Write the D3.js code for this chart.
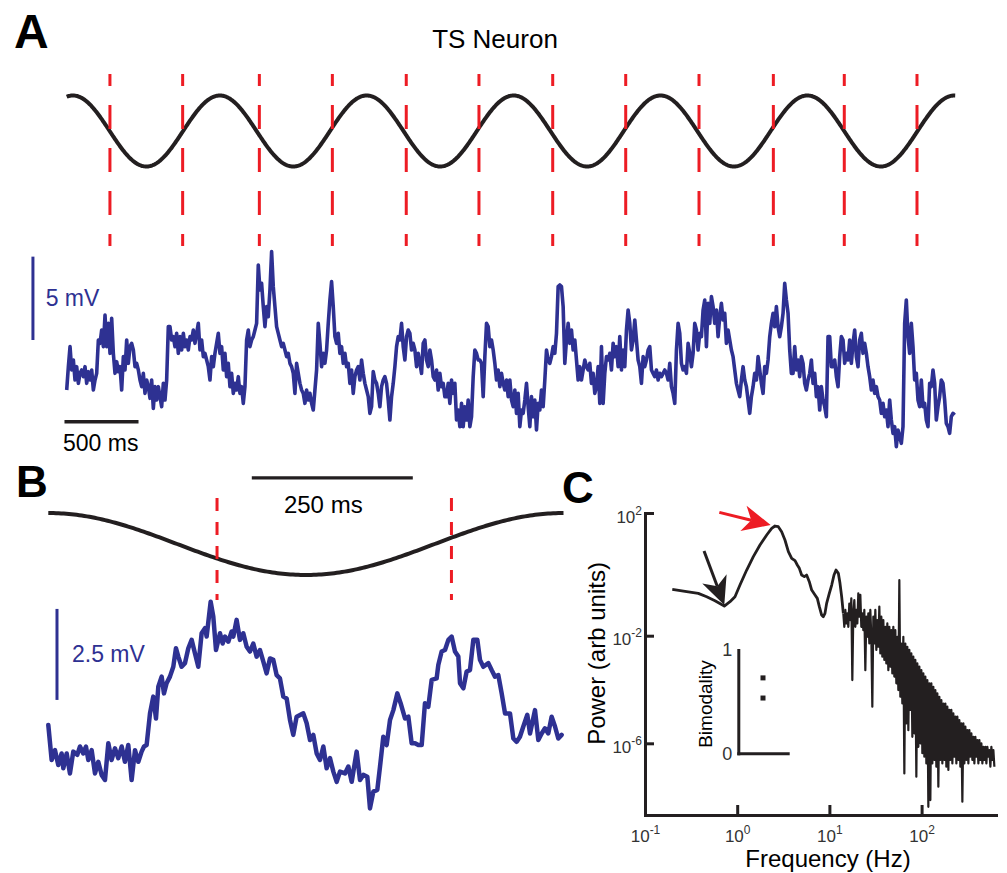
<!DOCTYPE html>
<html>
<head>
<meta charset="utf-8">
<script src="https://d3js.org/d3.v7.min.js"></script>
<style>
body { margin: 0; background: #fff; }
svg { display: block; font-family: "Liberation Sans", Arial, sans-serif; }
</style>
</head>
<body>
<svg width="1007" height="873"></svg>
<script>
// ---------------- data ----------------
// Panel A: membrane potential (mV, relative), one sample every 11.25 ms
const traceA_dt = 11.25;
const traceA = [
  0,1.4,2.6,1.2,1.8,0.6,1.4,0.4,1.0,1.2, 0.8,1.4,0.4,1.1,0.6,1.2,0,0.6,1.0,3.0,
  2.8,3.6,2.6,4.5,2.6,4.0,2.2,4.3,2.2,1.0, 1.7,1.1,1.4,0,2.0,1.2,3.0,1.6,2.6,2.8,
  2.4,1.4,1.6,1.2,0.6,0.2,1.0,-0.2,0.6,0.2, -0.5,0.6,-1.1,0.2,-0.6,0.2,-0.4,-1.0,0.4,-0.6,
  0.6,3.8,3.8,3.0,3.2,2.6,3.4,2.2,3.2,2.4, 3.4,2.6,3.0,2.4,3.2,3.0,3.6,2.8,3.4,4.0,
  2.4,3.0,2.0,2.2,1.8,1.4,0.6,2.0,1.4,2.2, 2.8,3.4,2.2,2.6,1.2,2.2,0.8,1.6,0.2,1.0,
  -0.2,0.4,0,0.8,-0.2,0.2,-0.8,0.2,3.0,3.6, 2.6,3.0,3.2,3.6,4.0,7.5,6.0,6.4,5.0,3.8,
  5.0,4.4,6.0,8.3,6.2,5.0,3.8,3.4,3.0,2.6, 2.8,2.4,2.0,2.2,1.6,1.4,1.0,-0.2,1.6,1.0,
  0.4,0,-0.2,-0.8,0,-0.6,-0.2,-0.8,-1.2,0, 1.2,4.0,2.8,1.4,2.2,1.6,2.4,4.0,5.4,6.5,
  5.0,3.2,2.8,3.4,2.2,2.6,1.6,2.2,1.4,1.6, 0.4,1.2,-0.2,0.8,1.2,1.4,0.6,
  1.8,1.0,0.4,0,-0.4,-1.4,-1.0,1.1,0.6,0.4, -0.2,-1.0,0.2,0.6,0.8,0.4,-0.6,-1.8,-0.4,0.4,
  1.4,2.6,3.2,3.0,4.0,2.6,1.8,3.2,3.6,3.4, 2.4,2.8,2.4,1.4,2.2,1.6,1.0,2.8,3.0,1.8,
  1.4,2.4,1.8,0.8,0.6,1.2,0,1.0,0.2,0.4, -0.4,-0.4,0.4,-0.8,0.6,-0.2,0.4,-1.8,-1.2,-2.2,
  -0.8,-2.2,-1.0,-1.8,-0.6,-2.2,-1.6,0.8,2.4,2.2, 1.8,1.8,1.6,-0.4,2.0,4.0,3.8,2.6,3.0,2.4,
  1.6,0.6,1.2,0.2,1.0,0.4,0,0.6,-0.4,0.6, -0.6,-1.0,0,-1.4,-0.2,-2.2,-1.2,-1.4,-0.6,0.4,
  -1.0,-2.2,-0.4,-1.6,-0.6,-2.4,-0.8,-1.2,0,-1.0, 0.6,2.4,1.8,1.6,2.0,2.6,2.2,3.4,6.2,6.3,
  6.2,5.0,1.6,3.0,4.0,2.8,3.6,2.4,3.0,1.8, 0.6,1.4,0.6,1.2,1.8,1.4,1.2,1.6,0.4,1.0,
  -0.2,0.2,1.4,-0.8,2.6,-0.8,1.0,2.0,1.8,2.2, 1.2,2.8,2.0,2.6,1.4,3.2,1.2,2.4,1.4,3.6,
  4.8,4.0,2.4,3.0,4.2,3.0,1.8,1.4,0.4,2.0, 1.4,1.8,2.4,2.6,1.2,1.0,0.8,1.2,0.6,1.0,
  0.8,1.0,1.2,1.0,0.6,1.6,0.2,-0.2,-0.8,2.4, 4.0,3.4,1.6,1.2,1.4,1.0,2.8,2.2,1.4,2.2,
  4.0,3.6,2.4,3.4,3.2,4.8,5.4,2.6,5.2,4.0, 5.6,5.0,4.0,4.8,3.2,4.4,5.2,4.2,4.6,2.8,
  3.6,3.0,2.4,2.0,1.2,0.4,0,-0.4,0.6,1.4, 0.6,0.2,-0.6,-1.4,-0.4,0.2,1.0,0.6,2.0,1.2,
  0.4,-0.2,1.4,1.0,1.8,3.2,4.0,4.6,3.8,5.0, 3.8,3.2,3.8,4.6,6.4,5.4,4.6,2.4,1.0,1.0,
  2.6,1.2,1.8,0.8,2.0,1.6,0.4,0,0.6,1.0, 1.8,0.4,1.0,-0.4,0.2,-1.2,0.2,-0.6,-1.0,-1.6,
  3.2,3.2,1.4,1.4,1.8,0.8,0.2,2.0,3.2,3.0, 1.6,2.2,1.8,3.0,1.6,2.8,3.6,2.0,1.4,3.0,
  3.4,2.2,2.8,2.2,1.4,0.8,0,0.6,-0.2,0.2, -0.4,-0.6,-1.4,-0.8,-1.6,-1.2,-2.2,-0.6,-1.8,-2.6,
  -2.2,-3.4,-2.4,-2.8,-3.2,-2.2,4.0,5.4,3.2,2.2, 4.0,2.6,0.6,1.0,-0.6,-1.0,0.6,-1.0,-0.8,-1.8,
  -2.2,0.4,0.2,1.2,0.4,-1.8,-1.0,-0.4,0.6,0.4, -0.6,-2.0,-2.2,-2.6,-1.6,-1.4,-1.5
];
// Stimulus in A: sinusoid, period and time of first peak (ms)
const stimA_period = 992, stimA_peak = 42, stimA_dur = 6000;
// Times (ms) of the red dashed markers in A
const marksA = [292, 783, 1301, 1794, 2293, 2784, 3282, 3775, 4270, 4772, 5251, 5742];

// Panel B: cycle trace, [time ms, potential mV]
const traceB = [
  [0,1.51],[5.2,0.55],[10.4,0.82],[15.5,0.41],[20.7,0.73],[23.3,0.32],[28.5,0.73],[33.6,0.18],[38.8,0.78],[45,0.69],
  [49.2,0.92],[54.3,0.73],[58.5,0.92],[62.1,0.55],[67.3,0.82],[72.5,0.18],[77.6,0.5],[82.8,0.14],[88,0],[93.2,1.01],
  [98.3,0.55],[103.5,0.87],[108.7,0.6],[113.9,0.92],[119,0.5],[124.2,0.96],[129.4,0],[134.6,0.82],[139.8,0.5],[144.9,0.78],
  [148.6,0.92],[152.7,0.96],[157.9,1.83],[163,2.29],[167.2,1.69],[170.8,2.56],[176,2.84],[179.6,2.38],[183.7,2.66],[188.9,2.84],
  [194.1,3.11],[198.2,3.62],[201.9,3.39],[207,3.11],[212.2,3.21],[217.4,3.62],[222.6,3.85],[227.7,3.48],[232.9,3.11],[238.1,4.03],
  [243.3,4.17],[245.9,3.94],[252.1,4.9],[256.2,4.49],[260.4,3.57],[266.6,4.03],[270.7,3.75],[274.3,3.94],[279.5,3.8],[284.7,4.08],
  [287.3,3.94],[292.4,4.4],[297.6,3.85],[302.8,4.03],[308,3.66],[313.1,3.53],[318.3,3.75],[323.5,3.39],[328.7,3.57],[333.9,3.25],
  [339,2.93],[344.2,3.34],[349.4,3.3],[354.6,2.88],[359.7,2.79],[364.9,2.29],[370.1,2.24],[375.3,1.65],[380.4,1.24],[385.6,1.74],
  [396,1.83],[401.2,1.56],[406.4,1.1],[411.5,1.24],[416.7,0.73],[421.9,0.55],[427.1,0.92],[432.2,0.32],[437.4,0.6],[442.6,0.23],
  [447.8,-0.05],[452.9,0.23],[460.7,0.18],[465.9,0.37],[471.1,-0.05],[478.8,0.78],[484,0],[489.2,0.14],[495.4,0.09],[499.5,-0.78],
  [504.7,-0.32],[510.9,-0.27],[515.1,0.37],[520.2,1.19],[525.4,0.96],[530.6,1.65],[535.8,1.92],[542,2.38],[547.1,2.11],[553.9,1.69],
  [559.1,1.74],[564.2,1.01],[569.4,1.01],[574.6,0.96],[579.8,0.96],[584.9,2.11],[590.1,2.01],[595.3,2.75],[603,2.79],[605.6,3.16],
  [610.8,3.53],[616,3.57],[621.2,3.85],[626.3,3.94],[631.5,3.53],[636.7,3.39],[639.3,2.66],[644.5,2.52],[649.6,2.98],[654.8,3.02],
  [660,3.85],[666.2,3.85],[670.3,3.3],[675.5,3.11],[683.3,3.21],[688.4,3.02],[693.6,2.84],[698.8,2.88],[704,2.38],[709.2,1.83],
  [716.9,1.83],[722.1,1.14],[727.3,1.05],[732.4,1.19],[737.6,1.47],[743.8,1.79],[748,1.28],[755.7,1.92],[760.9,1.1],[766.1,1.28],
  [771.2,1.42],[776.4,1.28],[781.6,1.74],[786.8,1.47],[791.9,1.14],[797.1,1.24]
];
const stimB_period = 800, stimB_dur = 800;
const marksB = [262, 626];

// Panel C: power spectrum. Low part as [log10 Hz, log10 power]
const specLow = [
  [-0.704,-0.489],[-0.548,-0.565],[-0.422,-0.62],[-0.331,-0.728],[-0.241,-0.859],[-0.14,-1.033],[-0.078,-0.891],
  [-0.024,-0.728],[0.03,-0.348],[0.103,0.141],[0.175,0.576],[0.247,0.957],[0.32,1.283],[0.374,1.5],[0.41,1.576],
  [0.446,1.554],[0.482,1.391],[0.518,1.12],[0.555,0.739],[0.591,0.522],[0.627,0.446],[0.652,0.304],[0.674,0.196],
  [0.699,-0.022],[0.728,-0.076],[0.753,-0.022],[0.782,-0.239],[0.808,-0.511],[0.844,-0.674],[0.869,-0.783],
  [0.891,-1.054],[0.916,-1.326],[0.934,-1.38],[0.952,-1.272],[0.97,-0.946],[0.999,-0.62],[1.025,-0.348],
  [1.05,-0.022],[1.072,0.141],[1.097,0.033],[1.115,-0.293],[1.133,-0.728],[1.151,-1.27]
];
// High part: log10 power on a log10-frequency grid starting at hiLogF0
const hiLogF0 = 1.151, hiLogFStep = 0.01085;
const hiLogP = [
  -1.27,-1.71,-1.16,-1.60,-1.27,-1.71,-0.95,-1.49,-0.78,-3.65,
  -1.27,-0.84,-1.71,-1.16,-1.60,-0.62,-1.38,-0.67,-1.71,-1.27,
  -1.82,-1.16,-3.28,-1.38,-2.04,-1.27,-2.29,-1.16,-2.04,-4.64,
  -1.38,-2.29,-1.16,-2.53,-1.49,-2.41,-1.05,-2.66,-1.38,-2.78,
  -1.49,-2.90,-1.71,-3.03,-1.60,-3.28,-1.71,-3.15,-1.82,-3.40,
  -1.71,-3.52,-1.82,-3.77,-2.04,-4.02,-0.19,-4.27,-2.29,-4.52,
  -2.04,-7.12,-2.29,-5.26,-2.41,-5.51,-2.53,-4.76,-2.66,-5.76,
  -2.78,-5.63,-2.90,-7.24,-3.03,-6.13,-3.15,-6.00,-3.28,-6.37,
  -3.40,-6.50,-3.52,-6.75,-3.65,-8.36,-3.77,-8.11,-3.77,-6.75,
  -3.90,-6.62,-4.02,-6.87,-4.14,-7.61,-4.27,-6.62,-4.39,-6.75,
  -4.52,-6.62,-4.52,-6.87,-4.64,-6.99,-4.76,-6.62,-4.76,-6.75,
  -4.89,-6.50,-5.01,-6.75,-5.01,-6.62,-5.14,-6.87,-5.26,-8.17,
  -5.26,-6.75,-5.38,-6.62,-5.51,-6.75,-5.51,-6.50,-5.63,-6.62,
  -5.76,-6.75,-5.76,-6.50,-5.88,-6.75,-5.88,-6.62,-6.00,-6.75,
  -6.13,-6.62,-6.13,-6.75,-6.13,-6.50,-6.25,-6.87,-6.13,-6.62,
  -6.25,-6.87
];
const xTicksC = [0.1, 1, 10, 100];
const yTicksC = [1e2, 1e-2, 1e-6];
// Arrows: [log10 Hz, log10 power] tail -> tip
const redArrow = [[-0.194, 2.02], [0.363, 1.609]];
const blackArrow = [[-0.36, 0.761], [-0.14, -1.0]];
// Inset: bimodality values
const bimodality = [0.73, 0.535];

// ---------------- drawing ----------------
const black = "#231f20", red = "#ed1c24", blue = "#2e3192";
const svg = d3.select("svg");

// panel letters
svg.append("text").attr("x", 14).attr("y", 48).attr("font-size", 48).attr("font-weight", "bold").text("A");
svg.append("text").attr("x", 16).attr("y", 497).attr("font-size", 44).attr("font-weight", "bold").text("B");
svg.append("text").attr("x", 562).attr("y", 503).attr("font-size", 44).attr("font-weight", "bold").text("C");

// ---- Panel A ----
const xA = d3.scaleLinear().domain([0, 6000]).range([66.7, 955.2]);
const yA = d3.scaleLinear().domain([0, 5]).range([390, 306.65]);
const sA = d3.scaleLinear().domain([-1, 1]).range([166.5, 95.5]);

svg.append("text").attr("x", 495).attr("y", 48).attr("font-size", 26)
  .attr("text-anchor", "middle").text("TS Neuron");

const gridA = d3.range(0, stimA_dur + 1, 5);
svg.append("path").datum(gridA)
  .attr("d", d3.line().x(t => xA(t)).y(t => sA(Math.cos(2 * Math.PI * (t - stimA_peak) / stimA_period))))
  .attr("fill", "none").attr("stroke", black).attr("stroke-width", 4);

svg.selectAll(".markA").data(marksA).join("line").attr("class", "markA")
  .attr("x1", d => xA(d)).attr("x2", d => xA(d)).attr("y1", 74).attr("y2", 246)
  .attr("stroke", red).attr("stroke-width", 3)
  .attr("stroke-dasharray", "24 19").attr("stroke-dashoffset", 12);

svg.append("path").datum(traceA)
  .attr("d", d3.line().x((d, i) => xA(i * traceA_dt)).y(d => yA(d)))
  .attr("fill", "none").attr("stroke", blue).attr("stroke-width", 3.6).attr("stroke-linejoin", "round");

// scale bars A
svg.append("line").attr("x1", xA(-228)).attr("x2", xA(-228)).attr("y1", yA(3)).attr("y2", yA(8))
  .attr("stroke", blue).attr("stroke-width", 3);
svg.append("text").attr("x", xA(-142)).attr("y", yA(5.06)).attr("font-size", 23).attr("fill", blue).text("5 mV");
svg.append("line").attr("x1", xA(-15)).attr("x2", xA(485)).attr("y1", yA(-1.9)).attr("y2", yA(-1.9))
  .attr("stroke", black).attr("stroke-width", 3.5);
svg.append("text").attr("x", xA(-25)).attr("y", yA(-3.66)).attr("font-size", 23).text("500 ms");

// ---- Panel B ----
const xB = d3.scaleLinear().domain([0, 800]).range([48.3, 563.5]);
const yB = d3.scaleLinear().domain([0, 2.5]).range([780, 689]);
const sB = d3.scaleLinear().domain([-1, 1]).range([575, 513]);

const gridB = d3.range(0, stimB_dur + 1, 4);
svg.append("path").datum(gridB)
  .attr("d", d3.line().x(t => xB(t)).y(t => sB(Math.cos(2 * Math.PI * t / stimB_period))))
  .attr("fill", "none").attr("stroke", black).attr("stroke-width", 4);

svg.selectAll(".markB").data(marksB).join("line").attr("class", "markB")
  .attr("x1", d => xB(d)).attr("x2", d => xB(d)).attr("y1", 498).attr("y2", 600)
  .attr("stroke", red).attr("stroke-width", 3).attr("stroke-dasharray", "13 11");

svg.append("path").datum(traceB)
  .attr("d", d3.line().x(d => xB(d[0])).y(d => yB(d[1])))
  .attr("fill", "none").attr("stroke", blue).attr("stroke-width", 4.5)
  .attr("stroke-linejoin", "round").attr("stroke-linecap", "round");

svg.append("line").attr("x1", xB(316)).attr("x2", xB(566)).attr("y1", yB(8.3)).attr("y2", yB(8.3))
  .attr("stroke", black).attr("stroke-width", 3.3);
svg.append("text").attr("x", xB(427)).attr("y", yB(7.33)).attr("font-size", 24)
  .attr("text-anchor", "middle").text("250 ms");
svg.append("line").attr("x1", xB(13.5)).attr("x2", xB(13.5)).attr("y1", yB(2.2)).attr("y2", yB(4.7))
  .attr("stroke", blue).attr("stroke-width", 3);
svg.append("text").attr("x", xB(36.8)).attr("y", yB(3.24)).attr("font-size", 23).attr("fill", blue).text("2.5 mV");

// ---- Panel C ----
const xC = d3.scaleLog().domain([0.1, Math.pow(10, 2.807)]).range([645, 996]);
const yC = d3.scaleLog().domain([Math.pow(10, -8.665), 1e-2, 1e2]).range([815, 635.7, 513]);

function expLabel(sel) {
  sel.text("10").append("tspan").attr("dy", -8).attr("font-size", 12)
    .text(d => Math.round(Math.log10(d)));
}

const gxC = svg.append("g").attr("transform", "translate(0,815)")
  .call(d3.axisBottom(xC).tickValues(xTicksC).tickSizeInner(-10).tickSizeOuter(0).tickFormat(() => ""));
gxC.selectAll(".tick text").attr("y", 27).attr("dy", 0).attr("font-size", 17)
  .attr("font-family", "Liberation Sans, Arial, sans-serif").attr("fill", "#333").call(expLabel);

const gyC = svg.append("g").attr("transform", "translate(645,0)")
  .call(d3.axisLeft(yC).tickValues(yTicksC).tickSizeInner(-9).tickSizeOuter(0).tickFormat(() => ""));
gyC.selectAll(".tick text").attr("x", -3).attr("y", 9).attr("dy", 0).attr("font-size", 17)
  .attr("font-family", "Liberation Sans, Arial, sans-serif").attr("fill", "#333").call(expLabel);

[gxC, gyC].forEach(g => {
  g.selectAll("path, line").attr("stroke", black).attr("stroke-width", 3);
  g.select(".domain").attr("stroke-linecap", "square");
});

svg.append("text").attr("transform", "translate(605,653.5) rotate(-90)")
  .attr("text-anchor", "middle").attr("font-size", 24).text("Power (arb units)");
svg.append("text").attr("x", 828).attr("y", 867)
  .attr("text-anchor", "middle").attr("font-size", 24).text("Frequency (Hz)");

const lowPts = specLow.map(d => [Math.pow(10, d[0]), Math.pow(10, d[1])]);
const hiPts = hiLogP.map((p, i) => [Math.pow(10, hiLogF0 + i * hiLogFStep), Math.pow(10, p)]);
const specLine = d3.line().x(d => xC(d[0])).y(d => yC(d[1]));
svg.append("path").datum(lowPts).attr("d", specLine)
  .attr("fill", "none").attr("stroke", black).attr("stroke-width", 2.8).attr("stroke-linejoin", "round");
svg.append("path").datum(hiPts).attr("d", specLine)
  .attr("fill", "none").attr("stroke", black).attr("stroke-width", 2.2).attr("stroke-linejoin", "round");

function arrow(pts, color) {
  const x0 = xC(Math.pow(10, pts[0][0])), y0 = yC(Math.pow(10, pts[0][1]));
  const x1 = xC(Math.pow(10, pts[1][0])), y1 = yC(Math.pow(10, pts[1][1]));
  const a = Math.atan2(y1 - y0, x1 - x0), ux = Math.cos(a), uy = Math.sin(a);
  const L = 28, W = 13, N = 8;
  const bx = x1 - ux * L, by = y1 - uy * L;
  const nx = x1 - ux * (L - N), ny = y1 - uy * (L - N);
  svg.append("line").attr("x1", x0).attr("y1", y0).attr("x2", nx).attr("y2", ny)
    .attr("stroke", color).attr("stroke-width", 3);
  svg.append("polygon")
    .attr("points", [[x1, y1], [bx - uy * W, by + ux * W], [nx, ny], [bx + uy * W, by - ux * W]].join(" "))
    .attr("fill", color);
}
arrow(redArrow, red);
arrow(blackArrow, black);

// inset: bimodality
const insY = d3.scaleLinear().domain([0, 1]).range([753.3, 650]);
const insX = d3.scalePoint().domain(["TS"]).range([738.3, 787.7]).padding(0.5);
const giy = svg.append("g").attr("transform", "translate(738.3,0)")
  .call(d3.axisLeft(insY).tickValues([0, 1]).tickSize(0).tickPadding(6).tickFormat(d3.format("d")));
const gix = svg.append("g").attr("transform", "translate(0,753.3)")
  .call(d3.axisBottom(insX).tickValues([]).tickSize(0));
[giy, gix].forEach(g => {
  g.select(".domain").attr("stroke", black).attr("stroke-width", 3).attr("stroke-linecap", "square");
  g.selectAll(".tick text").attr("font-size", 18).attr("fill", "#333")
    .attr("font-family", "Liberation Sans, Arial, sans-serif");
});
svg.append("text").attr("transform", "translate(711.6,704) rotate(-90)")
  .attr("text-anchor", "middle").attr("font-size", 19).text("Bimodality");
svg.selectAll(".bim").data(bimodality).join("rect").attr("class", "bim")
  .attr("x", insX("TS") - 2.5).attr("y", d => insY(d) - 2.5)
  .attr("width", 5).attr("height", 5).attr("fill", black);
</script>
</body>
</html>
